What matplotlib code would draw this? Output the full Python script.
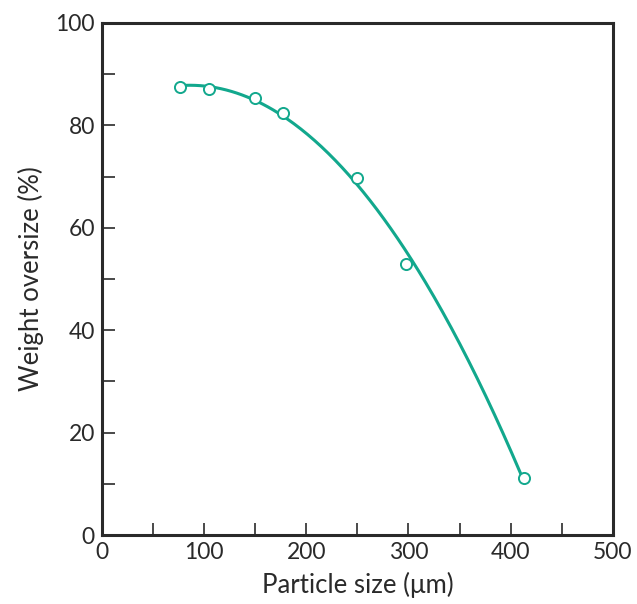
import numpy as np
import matplotlib.pyplot as plt
from matplotlib.ticker import MultipleLocator

plt.rcParams['font.family'] = ['Lato', 'DejaVu Sans']

# data
size_um = [76, 105, 150, 177, 250, 298, 413]
oversize = [87.4, 87.2, 85.4, 82.5, 69.7, 53.0, 11.1]

teal = '#12a88d'
dark = '#2a2a2a'

fig = plt.figure(figsize=(6.37, 6.04), dpi=100)
ax = fig.add_axes([0.160, 0.114, 0.802, 0.848])

# smooth fitted curve through the points
coef = np.polyfit(size_um, oversize, 2)
xs = np.linspace(min(size_um), max(size_um), 200)
ax.plot(xs, np.polyval(coef, xs), color=teal, lw=2.2, zorder=2)
ax.plot(size_um, oversize, 'o', ms=8, mfc='white', mec=teal, mew=1.4, zorder=3)

ax.set_xlim(0, 500)
ax.set_ylim(0, 100)
ax.xaxis.set_major_locator(MultipleLocator(100))
ax.xaxis.set_minor_locator(MultipleLocator(50))
ax.yaxis.set_major_locator(MultipleLocator(20))
ax.yaxis.set_minor_locator(MultipleLocator(10))

for s in ax.spines.values():
    s.set_linewidth(2.2)
    s.set_color(dark)

ax.tick_params(which='both', direction='in', length=9, width=1.2, color=dark,
               top=False, right=False, labelsize=16.5, labelcolor=dark, pad=5)

ax.set_xlabel('Particle size (μm)', fontsize=18.5, color=dark, labelpad=6)
ax.set_ylabel('Weight oversize (%)', fontsize=18.5, color=dark, labelpad=8)

fig.savefig('out.png', dpi=100)
